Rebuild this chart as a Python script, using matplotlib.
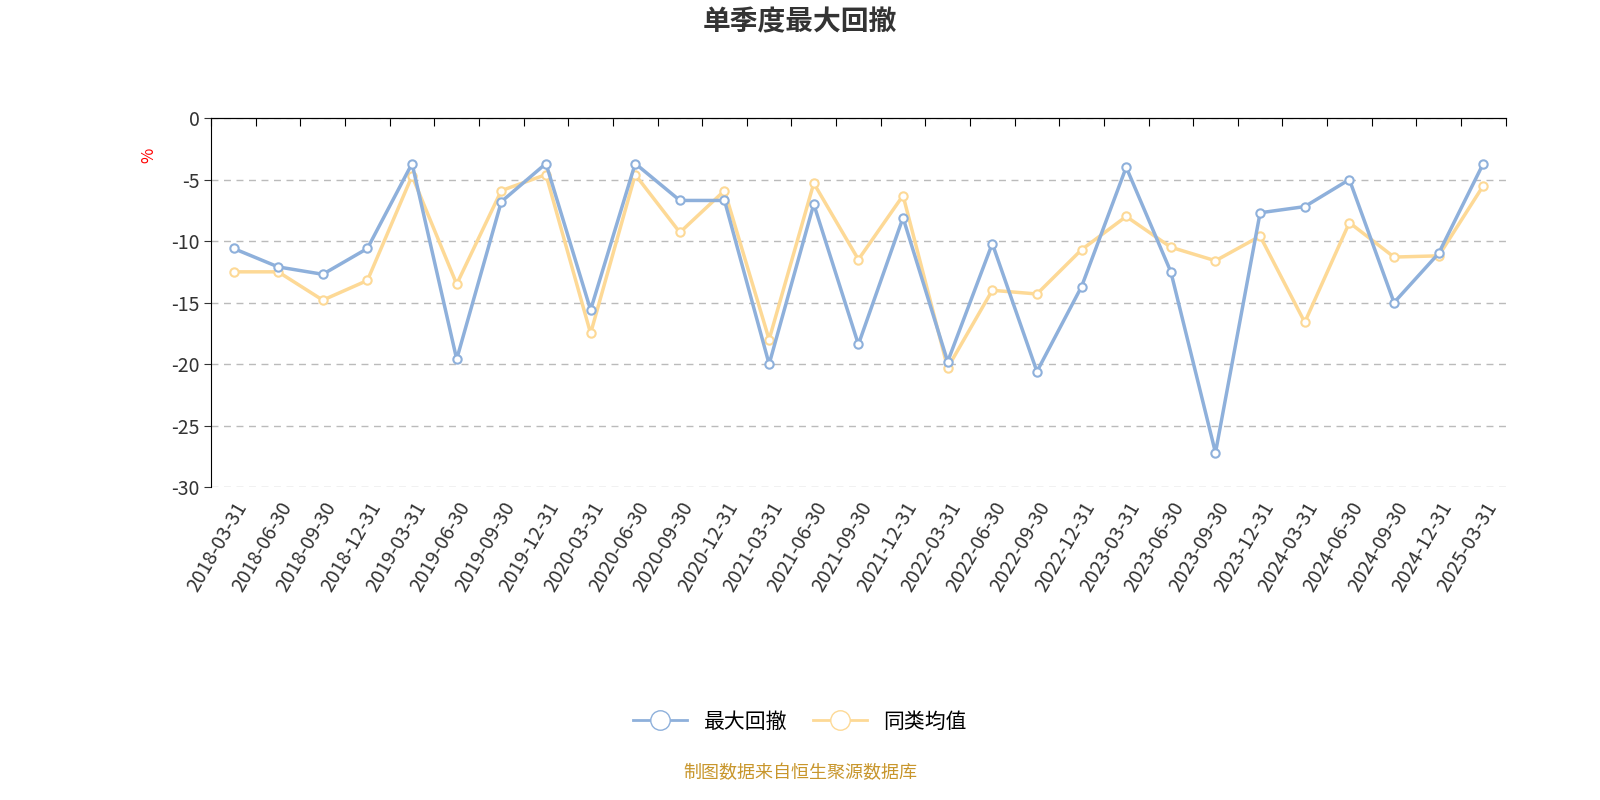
import numpy as np
import matplotlib.pyplot as plt
from matplotlib.lines import Line2D

plt.rcParams['font.family'] = ['Noto Sans CJK SC', 'Noto Sans CJK JP', 'Noto Sans CJK TC', 'DejaVu Sans']
plt.rcParams['axes.unicode_minus'] = False

dates = ['2018-03-31', '2018-06-30', '2018-09-30', '2018-12-31',
         '2019-03-31', '2019-06-30', '2019-09-30', '2019-12-31',
         '2020-03-31', '2020-06-30', '2020-09-30', '2020-12-31',
         '2021-03-31', '2021-06-30', '2021-09-30', '2021-12-31',
         '2022-03-31', '2022-06-30', '2022-09-30', '2022-12-31',
         '2023-03-31', '2023-06-30', '2023-09-30', '2023-12-31',
         '2024-03-31', '2024-06-30', '2024-09-30', '2024-12-31',
         '2025-03-31']
max_dd = [-10.6, -12.1, -12.7, -10.6, -3.7, -19.6, -6.8, -3.7, -15.6, -3.7,
          -6.7, -6.7, -20.0, -7.0, -18.4, -8.1, -19.8, -10.2, -20.6, -13.7,
          -4.0, -12.5, -27.2, -7.7, -7.2, -5.0, -15.0, -11.0, -3.7]
peer_avg = [-12.5, -12.5, -14.8, -13.2, -4.7, -13.5, -5.9, -4.6, -17.5, -4.6,
            -9.3, -5.9, -18.0, -5.3, -11.5, -6.3, -20.3, -14.0, -14.3, -10.7,
            -8.0, -10.5, -11.6, -9.6, -16.6, -8.5, -11.3, -11.2, -5.5]

blue = '#8eb0db'
orange = '#fdd996'

fig = plt.figure(figsize=(16, 8), dpi=100)
ax = fig.add_axes([0.132, 0.391, 0.809, 0.4615])
x = np.arange(len(dates))
ax.plot(x, max_dd, color=blue, lw=2.5, marker='o', ms=6, mfc='white', mec=blue, mew=1.5, zorder=4)
ax.plot(x, peer_avg, color=orange, lw=2.5, marker='o', ms=6, mfc='white', mec=orange, mew=1.5, zorder=3)

ax.set_xlim(-0.5, len(dates) - 0.5)
ax.set_ylim(-30, 0)
ax.set_yticks(np.arange(-30, 1, 5))
ax.tick_params(axis='y', labelsize=14, colors='#333333', length=5)
ax.set_xticks(x)
ax.set_xticklabels(dates, rotation=60, ha='right', rotation_mode='anchor', fontsize=14, color='#333333')
ax.tick_params(axis='x', length=0, pad=8)
for s in ['right', 'bottom']:
    ax.spines[s].set_visible(False)
ax.spines['top'].set_color('black')
ax.spines['left'].set_color('black')
ax.grid(axis='y', linestyle=(0, (5, 4)), color='#bbbbbb', lw=1)
ax.set_axisbelow(True)
sec = ax.secondary_xaxis('top')
sec.set_xticks(np.arange(-0.5, len(dates), 1))
sec.tick_params(direction='in', length=6, labeltop=False)
ax.text(-0.048, 0.9, '%', transform=ax.transAxes, color='red', rotation=90, fontsize=12, ha='center', va='center')

fig.text(0.5, 0.972, '单季度最大回撤', ha='center', va='center', fontsize=20, fontweight='bold', color='#333333')
handles = [Line2D([], [], color=blue, lw=2, marker='o', ms=14, mfc='white', mec=blue),
           Line2D([], [], color=orange, lw=2, marker='o', ms=14, mfc='white', mec=orange)]
fig.legend(handles, ['最大回撤', '同类均值'], loc='center', bbox_to_anchor=(0.5, 0.098), ncol=2,
           frameon=False, fontsize=15, handlelength=2.6, columnspacing=1.2)
fig.text(0.5, 0.034, '制图数据来自恒生聚源数据库', ha='center', va='center', fontsize=13, color='#c8962c')
fig.savefig('out.png')
